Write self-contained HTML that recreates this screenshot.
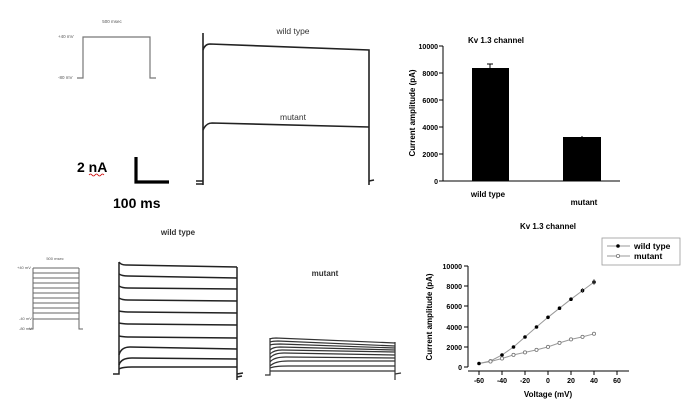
<!DOCTYPE html>
<html><head><meta charset="utf-8"><style>
html,body{margin:0;padding:0;background:#fff;}
svg{display:block;font-family:"Liberation Sans",Arial,sans-serif;}
</style></head><body>
<svg width="690" height="410" viewBox="0 0 690 410" xmlns="http://www.w3.org/2000/svg">
<rect width="690" height="410" fill="#fff"/>
<!-- top-left protocol -->
<g stroke="#777" stroke-width="1.2" fill="none">
<path d="M77 78 H83 V37 H150 V78 H156"/>
</g>
<text x="112" y="23" font-size="4.5" fill="#555" text-anchor="middle">500 msec</text>
<text x="58" y="38" font-size="4.5" fill="#555">+40 mV</text>
<text x="58" y="79" font-size="4.5" fill="#555">-80 mV</text>
<!-- top traces -->
<g stroke="#222" stroke-width="1.6" fill="none">
<path d="M196 181 H203 M196 184 H203"/>
<path d="M203 185 V33"/>
<path d="M203 50 Q205 44 210 44 L369 50 V185"/>
<path d="M203 130 Q206 123 212 123 L369 127"/>
<path d="M369 181 L374 180"/>
</g>
<text x="293" y="34" font-size="8.5" fill="#333" text-anchor="middle">wild type</text>
<text x="293" y="120" font-size="8.5" fill="#333" text-anchor="middle">mutant</text>
<!-- scale bar -->
<path d="M136 157 V182 H169" stroke="#000" stroke-width="3.2" fill="none"/>
<text x="77" y="172" font-size="14" font-weight="bold">2 nA</text>
<path d="M89 175 q1.5 -2 3 0 t3 0 t3 0 t3 0 t3 0" stroke="#c00" stroke-width="0.8" fill="none"/>
<text x="113" y="208" font-size="14" font-weight="bold">100 ms</text>
<!-- bar chart -->
<g stroke="#000" stroke-width="1" fill="none">
<path d="M443 46 V181 H620"/>
<path d="M439 46 H443 M439 73 H443 M439 100 H443 M439 127 H443 M439 154 H443 M439 181 H443"/>
<path d="M490 68 V64 M487 64 H493 M582 137 V136"/>
</g>
<rect x="472" y="68" width="37" height="113" fill="#000"/>
<rect x="563" y="137" width="38" height="44" fill="#000"/>
<g font-size="7" font-weight="bold" text-anchor="end">
<text x="438" y="49">10000</text><text x="438" y="76">8000</text><text x="438" y="103">6000</text>
<text x="438" y="130">4000</text><text x="438" y="157">2000</text><text x="438" y="184">0</text>
</g>
<text x="496" y="43" font-size="8" font-weight="bold" text-anchor="middle">Kv 1.3 channel</text>
<text transform="translate(415,113) rotate(-90)" font-size="8" font-weight="bold" text-anchor="middle">Current amplitude (pA)</text>
<text x="488" y="197" font-size="8" font-weight="bold" text-anchor="middle">wild type</text>
<text x="584" y="205" font-size="8" font-weight="bold" text-anchor="middle">mutant</text>
<!-- bottom protocol -->
<g stroke="#666" stroke-width="1" fill="none">
<path d="M29 329 H33 V268 M79 268 V329 H83"/>
<path d="M33 268H79M33 273H79M33 278H79M33 283H79M33 288H79M33 293H79M33 298H79M33 303H79M33 308H79M33 313H79M33 319H79"/>
</g>
<text x="55" y="260" font-size="4" fill="#555" text-anchor="middle">500 msec</text>
<text x="17" y="269" font-size="4" fill="#555">+40 mV</text>
<text x="19" y="320" font-size="4" fill="#555">-40 mV</text>
<text x="19" y="330" font-size="4" fill="#555">-80 mV</text>
<!-- WT family -->
<g stroke="#222" stroke-width="1.5" fill="none">
<path d="M113 374 H119 V262"/>
<path d="M237 267 V380"/>
<path d="M119 262 Q121 265 126 265 L237 267"/>
<path d="M119 274 Q122 276 128 276 L237 278"/>
<path d="M119 286 Q122 288 128 288 L237 289"/>
<path d="M119 298 Q122 300 128 300 L237 301"/>
<path d="M119 311 Q123 312 130 312 L237 313"/>
<path d="M119 323 Q123 324 130 324 L237 325"/>
<path d="M119 336 Q123 337 130 337 L237 338"/>
<path d="M119 355 Q121 347 130 347 L237 349"/>
<path d="M119 365 Q121 358 132 358 L237 359"/>
<path d="M119 369 Q122 367 132 367 L237 367"/>
<path d="M237 374 L243 373 M237 377 L242 376"/>
</g>
<text x="178" y="235" font-size="8" font-weight="bold" fill="#333" text-anchor="middle">wild type</text>
<!-- mutant family -->
<g stroke="#333" stroke-width="1.2" fill="none">
<path d="M265 375 H270 V338 M395 342 V380"/>
<path d="M270 339 Q272 338 276 338 L395 343"/>
<path d="M270 342 Q273 341 278 341 L395 346"/>
<path d="M270 345 Q273 344 280 344 L395 348"/>
<path d="M270 350 Q273 347 280 347 L395 350"/>
<path d="M270 354 Q274 350 282 350 L395 352"/>
<path d="M270 358 Q274 353 284 353 L395 355"/>
<path d="M270 362 Q274 357 286 357 L395 358"/>
<path d="M270 366 Q275 361 288 361 L395 361"/>
<path d="M270 368 Q275 366 288 366 L395 366"/>
<path d="M270 371 L395 371"/>
<path d="M395 374 L401 373"/>
</g>
<text x="325" y="276" font-size="8" font-weight="bold" fill="#333" text-anchor="middle">mutant</text>
<!-- IV chart -->
<g stroke="#000" stroke-width="1" fill="none">
<path d="M468 266 V367 M464 266H468 M464 286H468 M464 306H468 M464 327H468 M464 347H468 M464 367H468"/>
<path d="M468 371 H629 M479 371V375 M502 371V375 M525 371V375 M548 371V375 M571 371V375 M594 371V375 M617 371V375"/>
</g>
<g font-size="7" font-weight="bold" text-anchor="end">
<text x="462" y="269">10000</text><text x="462" y="289">8000</text><text x="462" y="309">6000</text>
<text x="462" y="330">4000</text><text x="462" y="350">2000</text><text x="462" y="370">0</text>
</g>
<g font-size="7" font-weight="bold" text-anchor="middle">
<text x="479" y="383">-60</text><text x="502" y="383">-40</text><text x="525" y="383">-20</text>
<text x="548" y="383">0</text><text x="571" y="383">20</text><text x="594" y="383">40</text><text x="617" y="383">60</text>
</g>
<text x="548" y="229" font-size="8" font-weight="bold" text-anchor="middle">Kv 1.3 channel</text>
<text transform="translate(432,317) rotate(-90)" font-size="8" font-weight="bold" text-anchor="middle">Current amplitude (pA)</text>
<text x="548" y="397" font-size="8" font-weight="bold" text-anchor="middle">Voltage (mV)</text>
<polyline fill="none" stroke="#999" stroke-width="1" points="479,363.5 490.5,361 502,355 513.5,347 525,337 536.5,327 548,317.3 559.5,308.2 571,299.2 582.5,290.6 594,282.1"/>
<polyline fill="none" stroke="#999" stroke-width="1" points="479,363.5 490.5,361.5 502,358.5 513.5,354.9 525,352.4 536.5,349.9 548,346.9 559.5,342.9 571,339.4 582.5,336.9 594,333.8"/>
<g fill="#000">
<circle cx="479" cy="363.5" r="1.8"/><circle cx="490.5" cy="361" r="1.8"/><circle cx="502" cy="355" r="1.8"/>
<circle cx="513.5" cy="347" r="1.8"/><circle cx="525" cy="337" r="1.8"/><circle cx="536.5" cy="327" r="1.8"/>
<circle cx="548" cy="317.3" r="1.8"/><circle cx="559.5" cy="308.2" r="1.8"/><circle cx="571" cy="299.2" r="1.8"/>
<circle cx="582.5" cy="290.6" r="1.8"/><circle cx="594" cy="282.1" r="1.8"/>
</g>
<g fill="#fff" stroke="#777" stroke-width="0.8">
<circle cx="490.5" cy="361.5" r="1.6"/><circle cx="502" cy="358.5" r="1.6"/>
<circle cx="513.5" cy="354.9" r="1.6"/><circle cx="525" cy="352.4" r="1.6"/><circle cx="536.5" cy="349.9" r="1.6"/>
<circle cx="548" cy="346.9" r="1.6"/><circle cx="559.5" cy="342.9" r="1.6"/><circle cx="571" cy="339.4" r="1.6"/>
<circle cx="582.5" cy="336.9" r="1.6"/><circle cx="594" cy="333.8" r="1.6"/>
</g>
<path d="M594 279 V285 M582.5 288 V293" stroke="#555" stroke-width="0.8"/>
<!-- legend -->
<rect x="602" y="238" width="78" height="27" fill="#fff" stroke="#999" stroke-width="0.8"/>
<path d="M607 246 H630 M607 256 H630" stroke="#999" stroke-width="1"/>
<circle cx="618" cy="246" r="1.8" fill="#000"/>
<circle cx="618" cy="256" r="1.6" fill="#fff" stroke="#777" stroke-width="0.8"/>
<text x="634" y="249" font-size="8.5" font-weight="bold">wild type</text>
<text x="634" y="259" font-size="8.5" font-weight="bold">mutant</text>
</svg>
</body></html>
